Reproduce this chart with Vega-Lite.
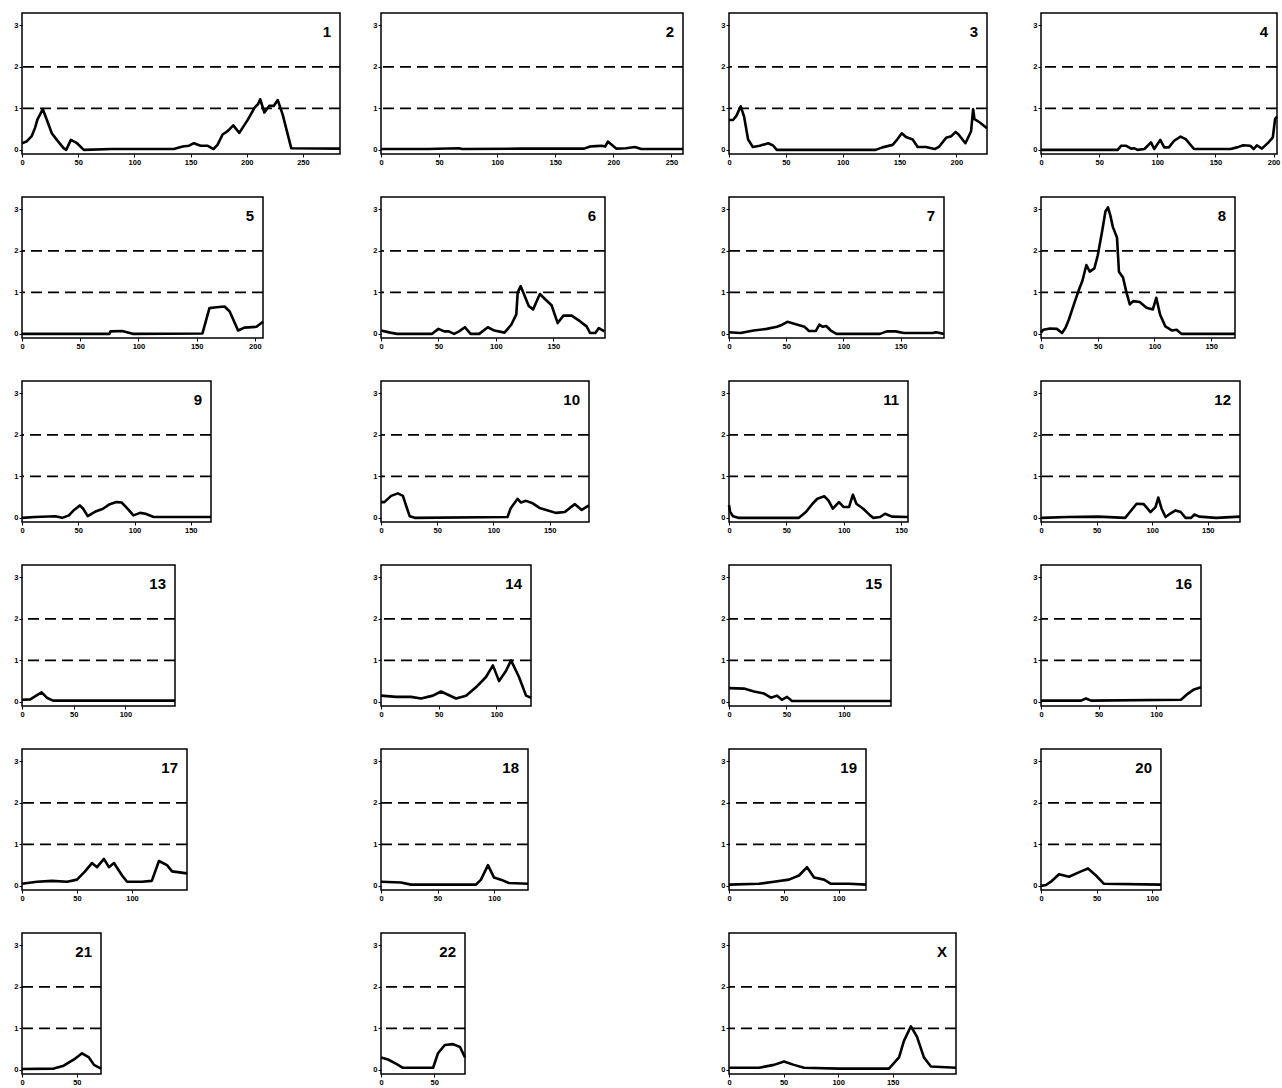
{
"$schema":"https://vega.github.io/schema/vega-lite/v6.json",
"background":"white",
"padding":{"left":9,"top":12,"right":0,"bottom":0},
"columns":4,
"align":"each",
"spacing":{"row":29,"column":25},
"datasets":{
"levels":[{"lvl":1},{"lvl":2}],
"c1":[{"pos":0,"v":0.16},{"pos":4,"v":0.2},{"pos":8.6,"v":0.33},{"pos":11.6,"v":0.53},{"pos":13.7,"v":0.73},{"pos":18.5,"v":0.98},{"pos":22,"v":0.73},{"pos":26.5,"v":0.4},{"pos":31,"v":0.24},{"pos":37,"v":0.04},{"pos":39.3,"v":0.0},{"pos":43.5,"v":0.24},{"pos":49,"v":0.16},{"pos":55,"v":0.0},{"pos":80,"v":0.02},{"pos":135,"v":0.02},{"pos":143,"v":0.08},{"pos":148.7,"v":0.1},{"pos":153,"v":0.16},{"pos":159,"v":0.1},{"pos":165,"v":0.1},{"pos":170.4,"v":0.02},{"pos":174,"v":0.12},{"pos":178.5,"v":0.37},{"pos":183,"v":0.45},{"pos":188,"v":0.59},{"pos":193.4,"v":0.41},{"pos":201,"v":0.73},{"pos":207,"v":1.02},{"pos":210,"v":1.1},{"pos":212,"v":1.22},{"pos":215.7,"v":0.9},{"pos":220,"v":1.06},{"pos":224,"v":1.06},{"pos":227.6,"v":1.2},{"pos":232,"v":0.85},{"pos":239.6,"v":0.04},{"pos":283,"v":0.03}],
"c2":[{"pos":0,"v":0.02},{"pos":40,"v":0.02},{"pos":67,"v":0.04},{"pos":70,"v":0.02},{"pos":120,"v":0.03},{"pos":175,"v":0.03},{"pos":180,"v":0.08},{"pos":185,"v":0.09},{"pos":190,"v":0.1},{"pos":193,"v":0.08},{"pos":195.3,"v":0.2},{"pos":202.5,"v":0.03},{"pos":211,"v":0.04},{"pos":218.6,"v":0.07},{"pos":224,"v":0.02},{"pos":260,"v":0.02}],
"c3":[{"pos":0,"v":0.72},{"pos":3.5,"v":0.72},{"pos":6.5,"v":0.82},{"pos":10.3,"v":1.05},{"pos":13.3,"v":0.8},{"pos":16.8,"v":0.25},{"pos":21,"v":0.07},{"pos":27,"v":0.1},{"pos":34.6,"v":0.16},{"pos":39,"v":0.1},{"pos":42,"v":0.0},{"pos":129,"v":0.0},{"pos":135,"v":0.06},{"pos":144,"v":0.12},{"pos":148,"v":0.25},{"pos":152,"v":0.4},{"pos":155.7,"v":0.31},{"pos":161.6,"v":0.25},{"pos":166,"v":0.07},{"pos":173.4,"v":0.07},{"pos":181,"v":0.02},{"pos":185,"v":0.08},{"pos":191,"v":0.29},{"pos":195.6,"v":0.33},{"pos":199.4,"v":0.43},{"pos":202,"v":0.37},{"pos":208,"v":0.16},{"pos":213,"v":0.45},{"pos":214.8,"v":0.98},{"pos":216,"v":0.74},{"pos":220.7,"v":0.66},{"pos":227,"v":0.52}],
"c4":[{"pos":0,"v":0},{"pos":66,"v":0},{"pos":69,"v":0.1},{"pos":73,"v":0.1},{"pos":77.5,"v":0.03},{"pos":80,"v":0.04},{"pos":83,"v":0},{"pos":89,"v":0.02},{"pos":94.6,"v":0.18},{"pos":97.4,"v":0.02},{"pos":102.6,"v":0.24},{"pos":106,"v":0.06},{"pos":110,"v":0.06},{"pos":114.5,"v":0.22},{"pos":120,"v":0.32},{"pos":124.5,"v":0.26},{"pos":131.6,"v":0.02},{"pos":163,"v":0.02},{"pos":168.7,"v":0.06},{"pos":174,"v":0.11},{"pos":180,"v":0.1},{"pos":183,"v":0.02},{"pos":185.7,"v":0.11},{"pos":190,"v":0.03},{"pos":195.7,"v":0.18},{"pos":199.4,"v":0.3},{"pos":201.4,"v":0.75},{"pos":203,"v":0.8}],
"c5":[{"pos":0,"v":0},{"pos":75,"v":0},{"pos":76,"v":0.06},{"pos":86,"v":0.07},{"pos":95,"v":0},{"pos":155,"v":0.01},{"pos":161,"v":0.62},{"pos":167,"v":0.64},{"pos":174,"v":0.66},{"pos":178.4,"v":0.54},{"pos":185.6,"v":0.08},{"pos":191,"v":0.15},{"pos":201.4,"v":0.17},{"pos":207,"v":0.29}],
"c6":[{"pos":0,"v":0.08},{"pos":8,"v":0.03},{"pos":14,"v":0},{"pos":44.5,"v":0},{"pos":50,"v":0.12},{"pos":55,"v":0.06},{"pos":59,"v":0.06},{"pos":63.6,"v":0},{"pos":68,"v":0.06},{"pos":73,"v":0.16},{"pos":78,"v":0},{"pos":85.5,"v":0},{"pos":93,"v":0.16},{"pos":98.7,"v":0.08},{"pos":107.5,"v":0.03},{"pos":113.4,"v":0.22},{"pos":117.8,"v":0.47},{"pos":119,"v":1.0},{"pos":121.6,"v":1.15},{"pos":125,"v":0.92},{"pos":128.6,"v":0.67},{"pos":132.4,"v":0.59},{"pos":138.3,"v":0.96},{"pos":142.7,"v":0.84},{"pos":148.5,"v":0.69},{"pos":153.8,"v":0.26},{"pos":158.8,"v":0.44},{"pos":166,"v":0.44},{"pos":173.4,"v":0.3},{"pos":179,"v":0.18},{"pos":182,"v":0.02},{"pos":186.6,"v":0.02},{"pos":189.6,"v":0.14},{"pos":194.5,"v":0.06}],
"c7":[{"pos":0,"v":0.04},{"pos":10,"v":0.02},{"pos":21.5,"v":0.08},{"pos":33,"v":0.12},{"pos":42,"v":0.17},{"pos":46.6,"v":0.22},{"pos":51,"v":0.29},{"pos":60,"v":0.22},{"pos":66,"v":0.17},{"pos":70,"v":0.07},{"pos":76,"v":0.07},{"pos":79,"v":0.22},{"pos":82,"v":0.17},{"pos":85,"v":0.19},{"pos":89,"v":0.08},{"pos":94,"v":0},{"pos":132,"v":0},{"pos":138,"v":0.06},{"pos":145.5,"v":0.06},{"pos":153,"v":0.02},{"pos":178,"v":0.02},{"pos":181,"v":0.04},{"pos":188,"v":0}],
"c8":[{"pos":0,"v":0.03},{"pos":2,"v":0.1},{"pos":8,"v":0.13},{"pos":14,"v":0.12},{"pos":18.5,"v":0.02},{"pos":21.5,"v":0.14},{"pos":24.5,"v":0.34},{"pos":29,"v":0.71},{"pos":33.5,"v":1.07},{"pos":36.5,"v":1.28},{"pos":40,"v":1.66},{"pos":43,"v":1.5},{"pos":47,"v":1.58},{"pos":50,"v":1.89},{"pos":53.8,"v":2.46},{"pos":56.8,"v":2.95},{"pos":59,"v":3.05},{"pos":61,"v":2.87},{"pos":63.3,"v":2.58},{"pos":67,"v":2.32},{"pos":68.7,"v":1.5},{"pos":72.3,"v":1.36},{"pos":75.3,"v":1.0},{"pos":78.3,"v":0.71},{"pos":81.3,"v":0.79},{"pos":87,"v":0.77},{"pos":93,"v":0.63},{"pos":98.6,"v":0.59},{"pos":101.6,"v":0.87},{"pos":105,"v":0.46},{"pos":109.6,"v":0.18},{"pos":115.6,"v":0.08},{"pos":119.5,"v":0.1},{"pos":123.7,"v":0},{"pos":171,"v":0}],
"c9":[{"pos":0,"v":0},{"pos":11.5,"v":0.02},{"pos":29.6,"v":0.04},{"pos":35.7,"v":0},{"pos":41.7,"v":0.06},{"pos":46.3,"v":0.19},{"pos":51.4,"v":0.3},{"pos":54.4,"v":0.22},{"pos":58.4,"v":0.04},{"pos":66,"v":0.16},{"pos":72,"v":0.22},{"pos":78,"v":0.33},{"pos":84,"v":0.38},{"pos":88.6,"v":0.37},{"pos":94.6,"v":0.2},{"pos":99,"v":0.06},{"pos":105,"v":0.12},{"pos":109.8,"v":0.1},{"pos":117,"v":0.02},{"pos":168,"v":0.02}],
"c10":[{"pos":0,"v":0.38},{"pos":3,"v":0.38},{"pos":9,"v":0.53},{"pos":15,"v":0.59},{"pos":19.5,"v":0.53},{"pos":22.5,"v":0.28},{"pos":25.5,"v":0.04},{"pos":30,"v":0},{"pos":112.5,"v":0.02},{"pos":115.5,"v":0.24},{"pos":121.5,"v":0.46},{"pos":124.5,"v":0.37},{"pos":129,"v":0.41},{"pos":135,"v":0.35},{"pos":141,"v":0.24},{"pos":148.5,"v":0.18},{"pos":155.4,"v":0.12},{"pos":163.5,"v":0.14},{"pos":168,"v":0.24},{"pos":172.5,"v":0.33},{"pos":178.5,"v":0.19},{"pos":185,"v":0.3}],
"c11":[{"pos":0,"v":0.31},{"pos":1,"v":0.14},{"pos":3.5,"v":0.04},{"pos":8,"v":0},{"pos":61,"v":0},{"pos":67,"v":0.14},{"pos":72.8,"v":0.34},{"pos":77,"v":0.46},{"pos":83,"v":0.52},{"pos":86.6,"v":0.42},{"pos":90.5,"v":0.22},{"pos":95.8,"v":0.38},{"pos":100,"v":0.26},{"pos":104.6,"v":0.26},{"pos":108,"v":0.56},{"pos":111,"v":0.34},{"pos":117,"v":0.22},{"pos":123,"v":0.06},{"pos":125.8,"v":0},{"pos":131.7,"v":0.02},{"pos":136,"v":0.1},{"pos":142,"v":0.03},{"pos":156,"v":0.02}],
"c12":[{"pos":0,"v":0},{"pos":24,"v":0.02},{"pos":51.5,"v":0.03},{"pos":75.7,"v":0},{"pos":80,"v":0.14},{"pos":86,"v":0.34},{"pos":92.4,"v":0.33},{"pos":98.5,"v":0.14},{"pos":103,"v":0.26},{"pos":105.5,"v":0.49},{"pos":108.5,"v":0.22},{"pos":112,"v":0.02},{"pos":116.7,"v":0.11},{"pos":121,"v":0.18},{"pos":125.7,"v":0.14},{"pos":130,"v":0},{"pos":135,"v":0},{"pos":138,"v":0.08},{"pos":142.4,"v":0.03},{"pos":157.6,"v":0},{"pos":179,"v":0.03}],
"c13":[{"pos":0,"v":0.05},{"pos":8,"v":0.06},{"pos":14.5,"v":0.16},{"pos":19,"v":0.23},{"pos":24,"v":0.1},{"pos":30,"v":0.03},{"pos":148,"v":0.03}],
"c14":[{"pos":0,"v":0.15},{"pos":13,"v":0.12},{"pos":26,"v":0.12},{"pos":34.7,"v":0.08},{"pos":45,"v":0.15},{"pos":52,"v":0.25},{"pos":65,"v":0.08},{"pos":73.7,"v":0.15},{"pos":82.3,"v":0.35},{"pos":91,"v":0.6},{"pos":97,"v":0.88},{"pos":102.3,"v":0.5},{"pos":108.4,"v":0.75},{"pos":112.7,"v":1.0},{"pos":119.6,"v":0.6},{"pos":125.7,"v":0.15},{"pos":130,"v":0.1}],
"c15":[{"pos":0,"v":0.33},{"pos":13,"v":0.32},{"pos":21.8,"v":0.25},{"pos":30.5,"v":0.2},{"pos":36.5,"v":0.1},{"pos":41.8,"v":0.15},{"pos":46,"v":0.05},{"pos":50.5,"v":0.12},{"pos":54.8,"v":0.02},{"pos":141,"v":0.02}],
"c16":[{"pos":0,"v":0.03},{"pos":34.8,"v":0.03},{"pos":39,"v":0.08},{"pos":43.5,"v":0.03},{"pos":121.6,"v":0.05},{"pos":127.7,"v":0.2},{"pos":133,"v":0.3},{"pos":139,"v":0.35}],
"c17":[{"pos":0,"v":0.05},{"pos":13.6,"v":0.1},{"pos":27.3,"v":0.12},{"pos":41,"v":0.1},{"pos":50,"v":0.15},{"pos":57.3,"v":0.35},{"pos":63.6,"v":0.55},{"pos":68.2,"v":0.45},{"pos":74.5,"v":0.65},{"pos":79,"v":0.45},{"pos":83.6,"v":0.55},{"pos":91,"v":0.25},{"pos":95.5,"v":0.1},{"pos":109,"v":0.1},{"pos":118,"v":0.12},{"pos":124.5,"v":0.6},{"pos":131.8,"v":0.5},{"pos":136.4,"v":0.35},{"pos":150,"v":0.3}],
"c18":[{"pos":0,"v":0.1},{"pos":17.7,"v":0.08},{"pos":26.5,"v":0.03},{"pos":84,"v":0.03},{"pos":88.4,"v":0.15},{"pos":94.6,"v":0.5},{"pos":100,"v":0.2},{"pos":106,"v":0.15},{"pos":113,"v":0.07},{"pos":130,"v":0.05}],
"c19":[{"pos":0,"v":0.03},{"pos":27.4,"v":0.05},{"pos":41,"v":0.1},{"pos":54.7,"v":0.15},{"pos":63.9,"v":0.25},{"pos":71.2,"v":0.45},{"pos":77.6,"v":0.2},{"pos":86.7,"v":0.15},{"pos":93,"v":0.05},{"pos":109.5,"v":0.05},{"pos":125,"v":0.03}],
"c20":[{"pos":0,"v":0.0},{"pos":4.5,"v":0.02},{"pos":9,"v":0.1},{"pos":16.2,"v":0.28},{"pos":25.2,"v":0.22},{"pos":36,"v":0.35},{"pos":42.3,"v":0.42},{"pos":49.5,"v":0.25},{"pos":56.7,"v":0.05},{"pos":108,"v":0.03}],
"c21":[{"pos":0,"v":0.02},{"pos":29,"v":0.03},{"pos":38,"v":0.1},{"pos":47.4,"v":0.25},{"pos":54.7,"v":0.4},{"pos":61,"v":0.3},{"pos":65.6,"v":0.12},{"pos":72,"v":0.03}],
"c22":[{"pos":0,"v":0.3},{"pos":6.6,"v":0.25},{"pos":14,"v":0.15},{"pos":20.7,"v":0.05},{"pos":49,"v":0.05},{"pos":53.6,"v":0.4},{"pos":60,"v":0.6},{"pos":67.7,"v":0.62},{"pos":74.3,"v":0.55},{"pos":79,"v":0.3}],
"cX":[{"pos":0,"v":0.05},{"pos":27.5,"v":0.05},{"pos":41.2,"v":0.12},{"pos":50.4,"v":0.2},{"pos":59.5,"v":0.12},{"pos":68.7,"v":0.05},{"pos":100.8,"v":0.03},{"pos":146.6,"v":0.03},{"pos":155.8,"v":0.3},{"pos":160.3,"v":0.7},{"pos":166.7,"v":1.05},{"pos":172.2,"v":0.8},{"pos":178.6,"v":0.3},{"pos":185,"v":0.08},{"pos":208,"v":0.05}]
},
"config":{
"view":{"stroke":"black","strokeWidth":1.5},
"axis":{"domain":false,"grid":false,"ticks":true,"tickColor":"black","tickSize":3,"labelFont":"Liberation Sans","labelFontSize":7.5,"labelFontWeight":"bold","labelColor":"black","labelPadding":1,"labelFlush":false,"labelOverlap":false},
"axisX":{"minExtent":12,"maxExtent":12}
},
"concat":[
{"width":318,"height":141,"layer":[
{"data":{"name":"levels"},"mark":{"type":"rule","strokeDash":[11,6],"strokeWidth":1.8,"color":"black"},"encoding":{"y":{"field":"lvl","type":"quantitative","title":null}}},
{"data":{"name":"c1"},"mark":{"type":"line","color":"black","strokeWidth":2.6,"strokeJoin":"round"},"encoding":{"x":{"field":"pos","type":"quantitative","title":null,"scale":{"domain":[0,283],"nice":false,"zero":false},"axis":{"values":[0,50,100,150,200,250]}},"y":{"field":"v","type":"quantitative","title":null,"scale":{"domain":[-0.1,3.3],"nice":false},"axis":{"values":[0,1,2,3],"minExtent":12,"maxExtent":12}}}},
{"data":{"values":[{"label":"1"}]},"mark":{"type":"text","align":"right","baseline":"middle","dx":-9,"font":"Liberation Sans","fontWeight":"bold","fontSize":15,"color":"black"},"encoding":{"text":{"field":"label"},"x":{"datum":283},"y":{"datum":2.85}}}]},
{"width":302,"height":141,"layer":[
{"data":{"name":"levels"},"mark":{"type":"rule","strokeDash":[11,6],"strokeWidth":1.8,"color":"black"},"encoding":{"y":{"field":"lvl","type":"quantitative","title":null}}},
{"data":{"name":"c2"},"mark":{"type":"line","color":"black","strokeWidth":2.6,"strokeJoin":"round"},"encoding":{"x":{"field":"pos","type":"quantitative","title":null,"scale":{"domain":[0,260],"nice":false,"zero":false},"axis":{"values":[0,50,100,150,200,250]}},"y":{"field":"v","type":"quantitative","title":null,"scale":{"domain":[-0.1,3.3],"nice":false},"axis":{"values":[0,1,2,3],"minExtent":12,"maxExtent":12}}}},
{"data":{"values":[{"label":"2"}]},"mark":{"type":"text","align":"right","baseline":"middle","dx":-9,"font":"Liberation Sans","fontWeight":"bold","fontSize":15,"color":"black"},"encoding":{"text":{"field":"label"},"x":{"datum":260},"y":{"datum":2.85}}}]},
{"width":258,"height":141,"layer":[
{"data":{"name":"levels"},"mark":{"type":"rule","strokeDash":[11,6],"strokeWidth":1.8,"color":"black"},"encoding":{"y":{"field":"lvl","type":"quantitative","title":null}}},
{"data":{"name":"c3"},"mark":{"type":"line","color":"black","strokeWidth":2.6,"strokeJoin":"round"},"encoding":{"x":{"field":"pos","type":"quantitative","title":null,"scale":{"domain":[0,227],"nice":false,"zero":false},"axis":{"values":[0,50,100,150,200]}},"y":{"field":"v","type":"quantitative","title":null,"scale":{"domain":[-0.1,3.3],"nice":false},"axis":{"values":[0,1,2,3],"minExtent":17,"maxExtent":17}}}},
{"data":{"values":[{"label":"3"}]},"mark":{"type":"text","align":"right","baseline":"middle","dx":-9,"font":"Liberation Sans","fontWeight":"bold","fontSize":15,"color":"black"},"encoding":{"text":{"field":"label"},"x":{"datum":227},"y":{"datum":2.85}}}]},
{"width":236,"height":141,"layer":[
{"data":{"name":"levels"},"mark":{"type":"rule","strokeDash":[11,6],"strokeWidth":1.8,"color":"black"},"encoding":{"y":{"field":"lvl","type":"quantitative","title":null}}},
{"data":{"name":"c4"},"mark":{"type":"line","color":"black","strokeWidth":2.6,"strokeJoin":"round"},"encoding":{"x":{"field":"pos","type":"quantitative","title":null,"scale":{"domain":[0,203],"nice":false,"zero":false},"axis":{"values":[0,50,100,150,200]}},"y":{"field":"v","type":"quantitative","title":null,"scale":{"domain":[-0.1,3.3],"nice":false},"axis":{"values":[0,1,2,3],"minExtent":25,"maxExtent":25}}}},
{"data":{"values":[{"label":"4"}]},"mark":{"type":"text","align":"right","baseline":"middle","dx":-9,"font":"Liberation Sans","fontWeight":"bold","fontSize":15,"color":"black"},"encoding":{"text":{"field":"label"},"x":{"datum":203},"y":{"datum":2.85}}}]},

{"width":241,"height":141,"layer":[
{"data":{"name":"levels"},"mark":{"type":"rule","strokeDash":[11,6],"strokeWidth":1.8,"color":"black"},"encoding":{"y":{"field":"lvl","type":"quantitative","title":null}}},
{"data":{"name":"c5"},"mark":{"type":"line","color":"black","strokeWidth":2.6,"strokeJoin":"round"},"encoding":{"x":{"field":"pos","type":"quantitative","title":null,"scale":{"domain":[0,207],"nice":false,"zero":false},"axis":{"values":[0,50,100,150,200]}},"y":{"field":"v","type":"quantitative","title":null,"scale":{"domain":[-0.1,3.3],"nice":false},"axis":{"values":[0,1,2,3],"minExtent":12,"maxExtent":12}}}},
{"data":{"values":[{"label":"5"}]},"mark":{"type":"text","align":"right","baseline":"middle","dx":-9,"font":"Liberation Sans","fontWeight":"bold","fontSize":15,"color":"black"},"encoding":{"text":{"field":"label"},"x":{"datum":207},"y":{"datum":2.85}}}]},
{"width":224,"height":141,"layer":[
{"data":{"name":"levels"},"mark":{"type":"rule","strokeDash":[11,6],"strokeWidth":1.8,"color":"black"},"encoding":{"y":{"field":"lvl","type":"quantitative","title":null}}},
{"data":{"name":"c6"},"mark":{"type":"line","color":"black","strokeWidth":2.6,"strokeJoin":"round"},"encoding":{"x":{"field":"pos","type":"quantitative","title":null,"scale":{"domain":[0,195],"nice":false,"zero":false},"axis":{"values":[0,50,100,150]}},"y":{"field":"v","type":"quantitative","title":null,"scale":{"domain":[-0.1,3.3],"nice":false},"axis":{"values":[0,1,2,3],"minExtent":12,"maxExtent":12}}}},
{"data":{"values":[{"label":"6"}]},"mark":{"type":"text","align":"right","baseline":"middle","dx":-9,"font":"Liberation Sans","fontWeight":"bold","fontSize":15,"color":"black"},"encoding":{"text":{"field":"label"},"x":{"datum":195},"y":{"datum":2.85}}}]},
{"width":215,"height":141,"layer":[
{"data":{"name":"levels"},"mark":{"type":"rule","strokeDash":[11,6],"strokeWidth":1.8,"color":"black"},"encoding":{"y":{"field":"lvl","type":"quantitative","title":null}}},
{"data":{"name":"c7"},"mark":{"type":"line","color":"black","strokeWidth":2.6,"strokeJoin":"round"},"encoding":{"x":{"field":"pos","type":"quantitative","title":null,"scale":{"domain":[0,188],"nice":false,"zero":false},"axis":{"values":[0,50,100,150]}},"y":{"field":"v","type":"quantitative","title":null,"scale":{"domain":[-0.1,3.3],"nice":false},"axis":{"values":[0,1,2,3],"minExtent":17,"maxExtent":17}}}},
{"data":{"values":[{"label":"7"}]},"mark":{"type":"text","align":"right","baseline":"middle","dx":-9,"font":"Liberation Sans","fontWeight":"bold","fontSize":15,"color":"black"},"encoding":{"text":{"field":"label"},"x":{"datum":188},"y":{"datum":2.85}}}]},
{"width":194,"height":141,"layer":[
{"data":{"name":"levels"},"mark":{"type":"rule","strokeDash":[11,6],"strokeWidth":1.8,"color":"black"},"encoding":{"y":{"field":"lvl","type":"quantitative","title":null}}},
{"data":{"name":"c8"},"mark":{"type":"line","color":"black","strokeWidth":2.6,"strokeJoin":"round"},"encoding":{"x":{"field":"pos","type":"quantitative","title":null,"scale":{"domain":[0,171],"nice":false,"zero":false},"axis":{"values":[0,50,100,150]}},"y":{"field":"v","type":"quantitative","title":null,"scale":{"domain":[-0.1,3.3],"nice":false},"axis":{"values":[0,1,2,3],"minExtent":25,"maxExtent":25}}}},
{"data":{"values":[{"label":"8"}]},"mark":{"type":"text","align":"right","baseline":"middle","dx":-9,"font":"Liberation Sans","fontWeight":"bold","fontSize":15,"color":"black"},"encoding":{"text":{"field":"label"},"x":{"datum":171},"y":{"datum":2.85}}}]},

{"width":189,"height":141,"layer":[
{"data":{"name":"levels"},"mark":{"type":"rule","strokeDash":[11,6],"strokeWidth":1.8,"color":"black"},"encoding":{"y":{"field":"lvl","type":"quantitative","title":null}}},
{"data":{"name":"c9"},"mark":{"type":"line","color":"black","strokeWidth":2.6,"strokeJoin":"round"},"encoding":{"x":{"field":"pos","type":"quantitative","title":null,"scale":{"domain":[0,168],"nice":false,"zero":false},"axis":{"values":[0,50,100,150]}},"y":{"field":"v","type":"quantitative","title":null,"scale":{"domain":[-0.1,3.3],"nice":false},"axis":{"values":[0,1,2,3],"minExtent":12,"maxExtent":12}}}},
{"data":{"values":[{"label":"9"}]},"mark":{"type":"text","align":"right","baseline":"middle","dx":-9,"font":"Liberation Sans","fontWeight":"bold","fontSize":15,"color":"black"},"encoding":{"text":{"field":"label"},"x":{"datum":168},"y":{"datum":2.85}}}]},
{"width":208,"height":141,"layer":[
{"data":{"name":"levels"},"mark":{"type":"rule","strokeDash":[11,6],"strokeWidth":1.8,"color":"black"},"encoding":{"y":{"field":"lvl","type":"quantitative","title":null}}},
{"data":{"name":"c10"},"mark":{"type":"line","color":"black","strokeWidth":2.6,"strokeJoin":"round"},"encoding":{"x":{"field":"pos","type":"quantitative","title":null,"scale":{"domain":[0,185],"nice":false,"zero":false},"axis":{"values":[0,50,100,150]}},"y":{"field":"v","type":"quantitative","title":null,"scale":{"domain":[-0.1,3.3],"nice":false},"axis":{"values":[0,1,2,3],"minExtent":12,"maxExtent":12}}}},
{"data":{"values":[{"label":"10"}]},"mark":{"type":"text","align":"right","baseline":"middle","dx":-9,"font":"Liberation Sans","fontWeight":"bold","fontSize":15,"color":"black"},"encoding":{"text":{"field":"label"},"x":{"datum":185},"y":{"datum":2.85}}}]},
{"width":179,"height":141,"layer":[
{"data":{"name":"levels"},"mark":{"type":"rule","strokeDash":[11,6],"strokeWidth":1.8,"color":"black"},"encoding":{"y":{"field":"lvl","type":"quantitative","title":null}}},
{"data":{"name":"c11"},"mark":{"type":"line","color":"black","strokeWidth":2.6,"strokeJoin":"round"},"encoding":{"x":{"field":"pos","type":"quantitative","title":null,"scale":{"domain":[0,156],"nice":false,"zero":false},"axis":{"values":[0,50,100,150]}},"y":{"field":"v","type":"quantitative","title":null,"scale":{"domain":[-0.1,3.3],"nice":false},"axis":{"values":[0,1,2,3],"minExtent":17,"maxExtent":17}}}},
{"data":{"values":[{"label":"11"}]},"mark":{"type":"text","align":"right","baseline":"middle","dx":-9,"font":"Liberation Sans","fontWeight":"bold","fontSize":15,"color":"black"},"encoding":{"text":{"field":"label"},"x":{"datum":156},"y":{"datum":2.85}}}]},
{"width":199,"height":141,"layer":[
{"data":{"name":"levels"},"mark":{"type":"rule","strokeDash":[11,6],"strokeWidth":1.8,"color":"black"},"encoding":{"y":{"field":"lvl","type":"quantitative","title":null}}},
{"data":{"name":"c12"},"mark":{"type":"line","color":"black","strokeWidth":2.6,"strokeJoin":"round"},"encoding":{"x":{"field":"pos","type":"quantitative","title":null,"scale":{"domain":[0,179],"nice":false,"zero":false},"axis":{"values":[0,50,100,150]}},"y":{"field":"v","type":"quantitative","title":null,"scale":{"domain":[-0.1,3.3],"nice":false},"axis":{"values":[0,1,2,3],"minExtent":25,"maxExtent":25}}}},
{"data":{"values":[{"label":"12"}]},"mark":{"type":"text","align":"right","baseline":"middle","dx":-9,"font":"Liberation Sans","fontWeight":"bold","fontSize":15,"color":"black"},"encoding":{"text":{"field":"label"},"x":{"datum":179},"y":{"datum":2.85}}}]},

{"width":153,"height":141,"layer":[
{"data":{"name":"levels"},"mark":{"type":"rule","strokeDash":[11,6],"strokeWidth":1.8,"color":"black"},"encoding":{"y":{"field":"lvl","type":"quantitative","title":null}}},
{"data":{"name":"c13"},"mark":{"type":"line","color":"black","strokeWidth":2.6,"strokeJoin":"round"},"encoding":{"x":{"field":"pos","type":"quantitative","title":null,"scale":{"domain":[0,148],"nice":false,"zero":false},"axis":{"values":[0,50,100]}},"y":{"field":"v","type":"quantitative","title":null,"scale":{"domain":[-0.1,3.3],"nice":false},"axis":{"values":[0,1,2,3],"minExtent":12,"maxExtent":12}}}},
{"data":{"values":[{"label":"13"}]},"mark":{"type":"text","align":"right","baseline":"middle","dx":-9,"font":"Liberation Sans","fontWeight":"bold","fontSize":15,"color":"black"},"encoding":{"text":{"field":"label"},"x":{"datum":148},"y":{"datum":2.85}}}]},
{"width":150,"height":141,"layer":[
{"data":{"name":"levels"},"mark":{"type":"rule","strokeDash":[11,6],"strokeWidth":1.8,"color":"black"},"encoding":{"y":{"field":"lvl","type":"quantitative","title":null}}},
{"data":{"name":"c14"},"mark":{"type":"line","color":"black","strokeWidth":2.6,"strokeJoin":"round"},"encoding":{"x":{"field":"pos","type":"quantitative","title":null,"scale":{"domain":[0,130],"nice":false,"zero":false},"axis":{"values":[0,50,100]}},"y":{"field":"v","type":"quantitative","title":null,"scale":{"domain":[-0.1,3.3],"nice":false},"axis":{"values":[0,1,2,3],"minExtent":12,"maxExtent":12}}}},
{"data":{"values":[{"label":"14"}]},"mark":{"type":"text","align":"right","baseline":"middle","dx":-9,"font":"Liberation Sans","fontWeight":"bold","fontSize":15,"color":"black"},"encoding":{"text":{"field":"label"},"x":{"datum":130},"y":{"datum":2.85}}}]},
{"width":162,"height":141,"layer":[
{"data":{"name":"levels"},"mark":{"type":"rule","strokeDash":[11,6],"strokeWidth":1.8,"color":"black"},"encoding":{"y":{"field":"lvl","type":"quantitative","title":null}}},
{"data":{"name":"c15"},"mark":{"type":"line","color":"black","strokeWidth":2.6,"strokeJoin":"round"},"encoding":{"x":{"field":"pos","type":"quantitative","title":null,"scale":{"domain":[0,141],"nice":false,"zero":false},"axis":{"values":[0,50,100]}},"y":{"field":"v","type":"quantitative","title":null,"scale":{"domain":[-0.1,3.3],"nice":false},"axis":{"values":[0,1,2,3],"minExtent":17,"maxExtent":17}}}},
{"data":{"values":[{"label":"15"}]},"mark":{"type":"text","align":"right","baseline":"middle","dx":-9,"font":"Liberation Sans","fontWeight":"bold","fontSize":15,"color":"black"},"encoding":{"text":{"field":"label"},"x":{"datum":141},"y":{"datum":2.85}}}]},
{"width":160,"height":141,"layer":[
{"data":{"name":"levels"},"mark":{"type":"rule","strokeDash":[11,6],"strokeWidth":1.8,"color":"black"},"encoding":{"y":{"field":"lvl","type":"quantitative","title":null}}},
{"data":{"name":"c16"},"mark":{"type":"line","color":"black","strokeWidth":2.6,"strokeJoin":"round"},"encoding":{"x":{"field":"pos","type":"quantitative","title":null,"scale":{"domain":[0,139],"nice":false,"zero":false},"axis":{"values":[0,50,100]}},"y":{"field":"v","type":"quantitative","title":null,"scale":{"domain":[-0.1,3.3],"nice":false},"axis":{"values":[0,1,2,3],"minExtent":25,"maxExtent":25}}}},
{"data":{"values":[{"label":"16"}]},"mark":{"type":"text","align":"right","baseline":"middle","dx":-9,"font":"Liberation Sans","fontWeight":"bold","fontSize":15,"color":"black"},"encoding":{"text":{"field":"label"},"x":{"datum":139},"y":{"datum":2.85}}}]},

{"width":165,"height":141,"layer":[
{"data":{"name":"levels"},"mark":{"type":"rule","strokeDash":[11,6],"strokeWidth":1.8,"color":"black"},"encoding":{"y":{"field":"lvl","type":"quantitative","title":null}}},
{"data":{"name":"c17"},"mark":{"type":"line","color":"black","strokeWidth":2.6,"strokeJoin":"round"},"encoding":{"x":{"field":"pos","type":"quantitative","title":null,"scale":{"domain":[0,150],"nice":false,"zero":false},"axis":{"values":[0,50,100]}},"y":{"field":"v","type":"quantitative","title":null,"scale":{"domain":[-0.1,3.3],"nice":false},"axis":{"values":[0,1,2,3],"minExtent":12,"maxExtent":12}}}},
{"data":{"values":[{"label":"17"}]},"mark":{"type":"text","align":"right","baseline":"middle","dx":-9,"font":"Liberation Sans","fontWeight":"bold","fontSize":15,"color":"black"},"encoding":{"text":{"field":"label"},"x":{"datum":150},"y":{"datum":2.85}}}]},
{"width":147,"height":141,"layer":[
{"data":{"name":"levels"},"mark":{"type":"rule","strokeDash":[11,6],"strokeWidth":1.8,"color":"black"},"encoding":{"y":{"field":"lvl","type":"quantitative","title":null}}},
{"data":{"name":"c18"},"mark":{"type":"line","color":"black","strokeWidth":2.6,"strokeJoin":"round"},"encoding":{"x":{"field":"pos","type":"quantitative","title":null,"scale":{"domain":[0,130],"nice":false,"zero":false},"axis":{"values":[0,50,100]}},"y":{"field":"v","type":"quantitative","title":null,"scale":{"domain":[-0.1,3.3],"nice":false},"axis":{"values":[0,1,2,3],"minExtent":12,"maxExtent":12}}}},
{"data":{"values":[{"label":"18"}]},"mark":{"type":"text","align":"right","baseline":"middle","dx":-9,"font":"Liberation Sans","fontWeight":"bold","fontSize":15,"color":"black"},"encoding":{"text":{"field":"label"},"x":{"datum":130},"y":{"datum":2.85}}}]},
{"width":137,"height":141,"layer":[
{"data":{"name":"levels"},"mark":{"type":"rule","strokeDash":[11,6],"strokeWidth":1.8,"color":"black"},"encoding":{"y":{"field":"lvl","type":"quantitative","title":null}}},
{"data":{"name":"c19"},"mark":{"type":"line","color":"black","strokeWidth":2.6,"strokeJoin":"round"},"encoding":{"x":{"field":"pos","type":"quantitative","title":null,"scale":{"domain":[0,125],"nice":false,"zero":false},"axis":{"values":[0,50,100]}},"y":{"field":"v","type":"quantitative","title":null,"scale":{"domain":[-0.1,3.3],"nice":false},"axis":{"values":[0,1,2,3],"minExtent":17,"maxExtent":17}}}},
{"data":{"values":[{"label":"19"}]},"mark":{"type":"text","align":"right","baseline":"middle","dx":-9,"font":"Liberation Sans","fontWeight":"bold","fontSize":15,"color":"black"},"encoding":{"text":{"field":"label"},"x":{"datum":125},"y":{"datum":2.85}}}]},
{"width":120,"height":141,"layer":[
{"data":{"name":"levels"},"mark":{"type":"rule","strokeDash":[11,6],"strokeWidth":1.8,"color":"black"},"encoding":{"y":{"field":"lvl","type":"quantitative","title":null}}},
{"data":{"name":"c20"},"mark":{"type":"line","color":"black","strokeWidth":2.6,"strokeJoin":"round"},"encoding":{"x":{"field":"pos","type":"quantitative","title":null,"scale":{"domain":[0,108],"nice":false,"zero":false},"axis":{"values":[0,50,100]}},"y":{"field":"v","type":"quantitative","title":null,"scale":{"domain":[-0.1,3.3],"nice":false},"axis":{"values":[0,1,2,3],"minExtent":25,"maxExtent":25}}}},
{"data":{"values":[{"label":"20"}]},"mark":{"type":"text","align":"right","baseline":"middle","dx":-9,"font":"Liberation Sans","fontWeight":"bold","fontSize":15,"color":"black"},"encoding":{"text":{"field":"label"},"x":{"datum":108},"y":{"datum":2.85}}}]},

{"width":79,"height":141,"layer":[
{"data":{"name":"levels"},"mark":{"type":"rule","strokeDash":[11,6],"strokeWidth":1.8,"color":"black"},"encoding":{"y":{"field":"lvl","type":"quantitative","title":null}}},
{"data":{"name":"c21"},"mark":{"type":"line","color":"black","strokeWidth":2.6,"strokeJoin":"round"},"encoding":{"x":{"field":"pos","type":"quantitative","title":null,"scale":{"domain":[0,72],"nice":false,"zero":false},"axis":{"values":[0,50]}},"y":{"field":"v","type":"quantitative","title":null,"scale":{"domain":[-0.1,3.3],"nice":false},"axis":{"values":[0,1,2,3],"minExtent":12,"maxExtent":12}}}},
{"data":{"values":[{"label":"21"}]},"mark":{"type":"text","align":"right","baseline":"middle","dx":-9,"font":"Liberation Sans","fontWeight":"bold","fontSize":15,"color":"black"},"encoding":{"text":{"field":"label"},"x":{"datum":72},"y":{"datum":2.85}}}]},
{"width":84,"height":141,"layer":[
{"data":{"name":"levels"},"mark":{"type":"rule","strokeDash":[11,6],"strokeWidth":1.8,"color":"black"},"encoding":{"y":{"field":"lvl","type":"quantitative","title":null}}},
{"data":{"name":"c22"},"mark":{"type":"line","color":"black","strokeWidth":2.6,"strokeJoin":"round"},"encoding":{"x":{"field":"pos","type":"quantitative","title":null,"scale":{"domain":[0,79],"nice":false,"zero":false},"axis":{"values":[0,50]}},"y":{"field":"v","type":"quantitative","title":null,"scale":{"domain":[-0.1,3.3],"nice":false},"axis":{"values":[0,1,2,3],"minExtent":12,"maxExtent":12}}}},
{"data":{"values":[{"label":"22"}]},"mark":{"type":"text","align":"right","baseline":"middle","dx":-9,"font":"Liberation Sans","fontWeight":"bold","fontSize":15,"color":"black"},"encoding":{"text":{"field":"label"},"x":{"datum":79},"y":{"datum":2.85}}}]},
{"width":227,"height":141,"layer":[
{"data":{"name":"levels"},"mark":{"type":"rule","strokeDash":[11,6],"strokeWidth":1.8,"color":"black"},"encoding":{"y":{"field":"lvl","type":"quantitative","title":null}}},
{"data":{"name":"cX"},"mark":{"type":"line","color":"black","strokeWidth":2.6,"strokeJoin":"round"},"encoding":{"x":{"field":"pos","type":"quantitative","title":null,"scale":{"domain":[0,208],"nice":false,"zero":false},"axis":{"values":[0,50,100,150]}},"y":{"field":"v","type":"quantitative","title":null,"scale":{"domain":[-0.1,3.3],"nice":false},"axis":{"values":[0,1,2,3],"minExtent":17,"maxExtent":17}}}},
{"data":{"values":[{"label":"X"}]},"mark":{"type":"text","align":"right","baseline":"middle","dx":-9,"font":"Liberation Sans","fontWeight":"bold","fontSize":15,"color":"black"},"encoding":{"text":{"field":"label"},"x":{"datum":208},"y":{"datum":2.85}}}]}
]
}
